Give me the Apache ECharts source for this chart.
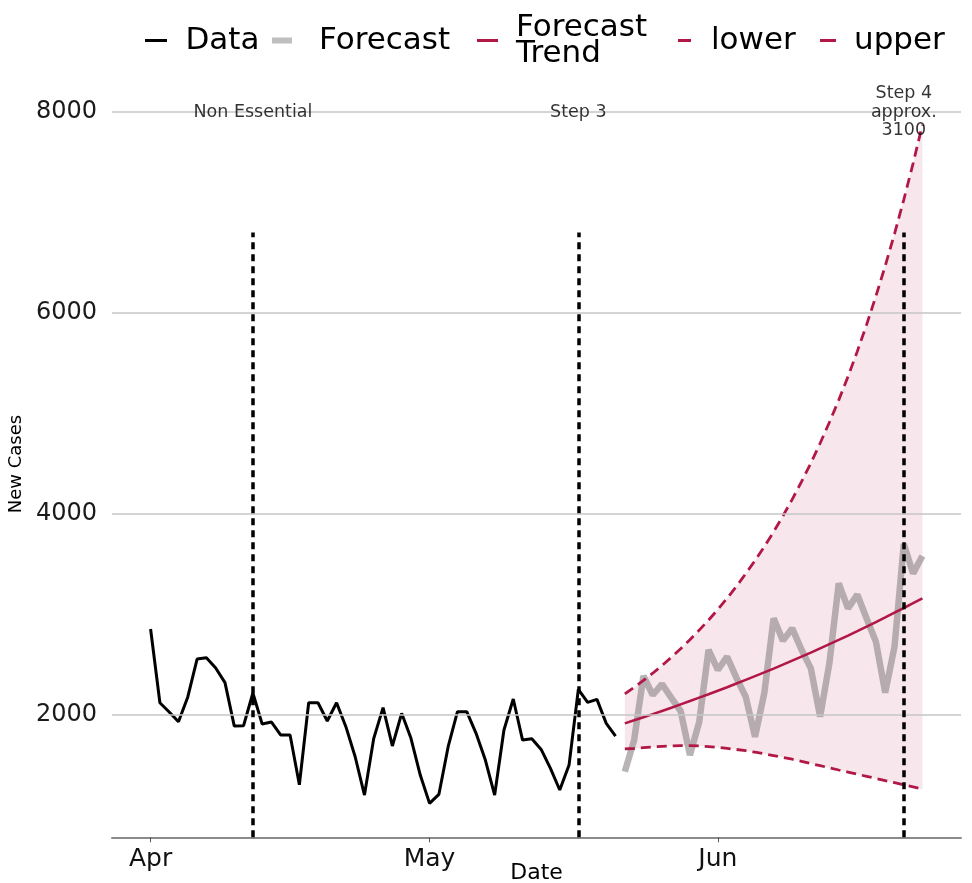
<!DOCTYPE html>
<html><head><meta charset="utf-8">
<script src="https://cdn.jsdelivr.net/npm/echarts@6/dist/echarts.min.js"></script>
<style>html,body{margin:0;padding:0;background:#fff}#c{width:972px;height:883px}</style>
</head><body><div id="c"></div>
<script>
// ---- data ----
const dataStart = '2021-04-01';
const dataValues = [2856,2122,2030,1933,2180,2557,2570,2468,2322,1890,1894,2219,1910,1930,1801,1801,1306,2122,2122,1940,2122,1884,1585,1204,1768,2073,1692,2017,1768,1403,1121,1210,1685,2033,2033,1818,1552,1204,1851,2159,1751,1764,1658,1469,1254,1502,2255,2126,2156,1917,1791];
const forecastStart = '2021-05-22';
const forecastValues = [1436,1751,2388,2199,2308,2170,2040,1602,1933,2647,2448,2580,2370,2182,1784,2219,2962,2740,2862,2650,2464,1983,2517,3310,3061,3198,2960,2729,2222,2680,3701,3409,3582];
const trendValues = [1917,1947,1978,2009,2041,2073,2106,2139,2173,2207,2242,2277,2313,2350,2387,2424,2462,2501,2541,2581,2621,2663,2705,2747,2790,2834,2879,2925,2971,3018,3065,3113,3161];
const lowerValues = [1663,1667,1675,1682,1688,1692,1695,1695,1692,1686,1678,1668,1657,1645,1630,1614,1597,1579,1560,1539,1517,1496,1475,1453,1432,1411,1390,1369,1348,1327,1306,1285,1262];
const upperValues = [2210,2275,2344,2416,2493,2574,2659,2749,2845,2944,3050,3162,3280,3406,3537,3676,3823,3980,4146,4321,4506,4704,4913,5133,5368,5618,5884,6168,6468,6788,7127,7489,7873];
const monthTickDates = ['2021-04-01','2021-05-01','2021-06-01'];
const monthTickLabels = ['Apr','May','Jun'];
const yTickValues = [2000,4000,6000,8000];
const eventDates = ['2021-04-12','2021-05-17','2021-06-21'];
const eventLabels = ['Non Essential','Step 3','Step 4\napprox.\n3100'];
const eventLineTop = 6800;
const eventLabelY = 8000;

// ---- helpers ----
const DAY = 86400000;
const t0 = Date.parse(dataStart);
const dayOf = s => Math.round((Date.parse(s) - t0) / DAY);
const fs = dayOf(forecastStart);
const dataPts = dataValues.map((v, i) => [i, v]);
const fc = arr => arr.map((v, i) => [fs + i, v]);
const bandData = lowerValues.map((v, i) => [fs + i, v, upperValues[i]]);
const monthDays = monthTickDates.map(dayOf);

const allVals = dataValues.concat(forecastValues, lowerValues, upperValues);
const vMin = Math.min(...allVals), vMax = Math.max(...allVals);
const yMin = vMin - 0.05 * (vMax - vMin), yMax = vMax + 0.05 * (vMax - vMin);
const lastDay = fs + forecastValues.length - 1;
const xMin = -0.05 * lastDay, xMax = lastDay + 0.05 * lastDay;

const RED = '#b21846';
const FONT = 'DejaVu Sans';

function legendItem(name, left, top, w, h, color, pad, lh) {
  return {
    left: left, top: top, orient: 'horizontal', selectedMode: false,
    itemWidth: w, itemHeight: h, padding: 0,
    data: [{ name: name, icon: 'rect', itemStyle: { color: color, borderWidth: 0 } }],
    textStyle: { fontFamily: FONT, fontSize: 31, color: '#000', lineHeight: lh, padding: [0, 0, 0, pad] }
  };
}

const chart = echarts.init(document.getElementById('c'), null, { renderer: 'canvas' });
chart.setOption({
  animation: false,
  backgroundColor: '#fff',
  textStyle: { fontFamily: FONT },
  grid: { left: 112, right: 11, top: 90.8, bottom: 45.7, containLabel: false, outerBoundsMode: 'none' },
  legend: [
    legendItem('Data', 145, 25, 22, 3, '#000', 13.5, 30),
    legendItem('Forecast', 272, 25, 20, 6, '#bfbfbf', 22, 30),
    legendItem('Forecast\nTrend', 477, 12, 21, 3, RED, 13, 26),
    legendItem('lower', 678, 25, 13, 3, RED, 15, 30),
    legendItem('upper', 820, 25, 16, 3, RED, 13, 30)
  ],
  xAxis: {
    type: 'value', min: xMin, max: xMax,
    name: 'Date', nameLocation: 'middle', nameGap: 25, nameMoveOverlap: false,
    nameTextStyle: { fontFamily: FONT, fontSize: 22, color: '#000', verticalAlign: 'top' },
    axisLine: { show: true, lineStyle: { color: '#8a8a8a', width: 2 } },
    axisTick: { show: true, customValues: monthDays, length: 5, lineStyle: { color: '#555', width: 1 } },
    axisLabel: {
      customValues: monthDays, margin: 10, fontSize: 25, color: '#111', fontFamily: FONT,
      formatter: v => monthTickLabels[monthDays.indexOf(Math.round(v))] || ''
    },
    splitLine: { show: false }
  },
  yAxis: {
    type: 'value', min: yMin, max: yMax,
    name: 'New Cases', nameLocation: 'middle', nameGap: 81, nameRotate: 90,
    nameTextStyle: { fontFamily: FONT, fontSize: 18, color: '#000' },
    axisLine: { show: false }, axisTick: { show: false },
    axisLabel: { customValues: yTickValues, margin: 15, fontSize: 24, color: '#1a1a1a', fontFamily: FONT,
      formatter: v => String(Math.round(v)) },
    splitLine: { show: false }
  },
  series: [
    { // gridlines
      type: 'line', name: 'grid', data: dataPts, symbol: 'none', silent: true, z: 0,
      lineStyle: { opacity: 0 },
      markLine: {
        silent: true, symbol: 'none', label: { show: false }, animation: false,
        lineStyle: { color: '#c6c6c6', width: 1.5, type: 'solid' },
        data: yTickValues.map(v => ({ yAxis: v }))
      }
    },
    { // confidence band
      type: 'custom', name: 'band', data: bandData, silent: true, z: 1,
      encode: { x: 0, y: [1, 2] },
      renderItem: (params, api) => {
        if (params.dataIndex !== 0) return null;
        const top = bandData.map(d => api.coord([d[0], d[2]]));
        const bot = bandData.map(d => api.coord([d[0], d[1]])).reverse();
        return { type: 'polygon', shape: { points: top.concat(bot) }, style: { fill: 'rgba(178,24,70,0.1)' } };
      }
    },
    { type: 'line', name: 'Forecast', data: fc(forecastValues), symbol: 'none', z: 2,
      lineStyle: { color: 'rgba(150,145,147,0.68)', width: 6.5 }, itemStyle: { color: '#bfbfbf' } },
    { type: 'line', name: 'Forecast\nTrend', data: fc(trendValues), symbol: 'none', z: 3,
      lineStyle: { color: RED, width: 2.6 }, itemStyle: { color: RED } },
    { type: 'line', name: 'lower', data: fc(lowerValues), symbol: 'none', z: 3,
      lineStyle: { color: RED, width: 2.8, type: [10, 6] }, itemStyle: { color: RED } },
    { type: 'line', name: 'upper', data: fc(upperValues), symbol: 'none', z: 3,
      lineStyle: { color: RED, width: 2.8, type: [10, 6] }, itemStyle: { color: RED } },
    { type: 'line', name: 'Data', data: dataPts, symbol: 'none', z: 4,
      lineStyle: { color: '#000', width: 3 }, itemStyle: { color: '#000' } },
    { // event lines
      type: 'line', name: 'events', data: [], symbol: 'none', silent: true, z: 5,
      markLine: {
        silent: true, symbol: 'none', label: { show: false }, animation: false,
        lineStyle: { color: '#000', width: 3.5, type: [7, 5] },
        data: eventDates.map(d => [{ coord: [dayOf(d), yMin] }, { coord: [dayOf(d), eventLineTop] }])
      }
    },
    { // event labels
      type: 'scatter', name: 'labels', symbolSize: 0, silent: true, z: 6,
      data: eventDates.map((d, i) => [dayOf(d), eventLabelY, eventLabels[i]]),
      label: {
        show: true, position: 'inside', formatter: p => p.data[2],
        fontFamily: FONT, fontSize: 17.5, lineHeight: 18.5, color: '#000', align: 'center', verticalAlign: 'middle'
      }
    }
  ]
});
</script></body></html>
